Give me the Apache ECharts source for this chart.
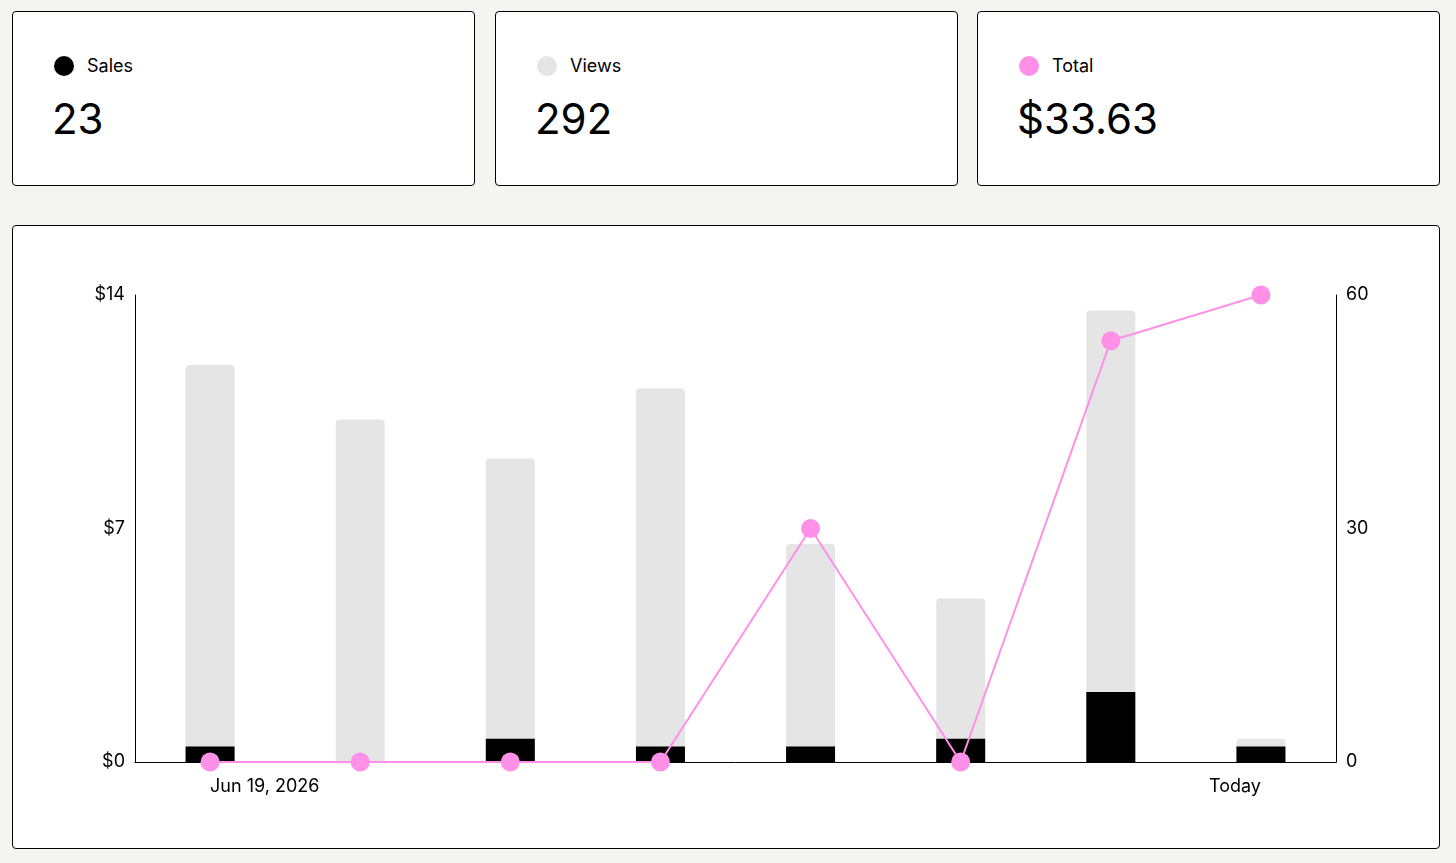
<!DOCTYPE html>
<html>
<head>
<meta charset="utf-8">
<script src="https://cdn.jsdelivr.net/npm/echarts@6/dist/echarts.min.js"></script>
<style>
  html,body{margin:0;padding:0;background:#f4f4f0;font-family:Inter,"Noto Sans",sans-serif;color:#000;}
  body{width:1456px;height:863px;position:relative;overflow:hidden;}
  .card{position:absolute;background:#fff;border:1px solid #000;border-radius:4px;box-sizing:border-box;}
  .lbl{position:absolute;left:41px;top:42px;font-size:18px;line-height:24px;display:flex;align-items:center;}
  .dot{width:20px;height:20px;border-radius:50%;margin-right:13px;}
  .num{position:absolute;left:39px;top:81px;font-size:42px;line-height:52px;}
  #chart{position:absolute;left:0;top:0;width:1425px;height:621px;}
</style>
</head>
<body>
<div class="card" style="left:12px;top:11px;width:463px;height:175px;">
  <div class="lbl"><span class="dot" style="background:#000"></span><span id="l0"></span></div>
  <div class="num" id="n0"></div>
</div>
<div class="card" style="left:495px;top:11px;width:463px;height:175px;">
  <div class="lbl"><span class="dot" style="background:#e5e5e5"></span><span id="l1"></span></div>
  <div class="num" id="n1"></div>
</div>
<div class="card" style="left:977px;top:11px;width:463px;height:175px;">
  <div class="lbl"><span class="dot" style="background:#ff90e8"></span><span id="l2"></span></div>
  <div class="num" id="n2"></div>
</div>
<div class="card" style="left:12px;top:225px;width:1428px;height:624px;">
  <div id="chart"></div>
</div>
<script>
const categories = ['Jun 19, 2026','Jun 20, 2026','Jun 21, 2026','Jun 22, 2026','Jun 23, 2026','Jun 24, 2026','Jun 25, 2026','Today'];
const views = [51, 44, 39, 48, 28, 21, 58, 3];
const sales = [2, 0, 3, 2, 2, 3, 9, 2];
const totals = [0, 0, 0, 0, 7.00, 0, 12.63, 14.00];
const leftTicks = ['$0', '$7', '$14'];
const rightTicks = ['0', '30', '60'];
const cardLabels = ['Sales', 'Views', 'Total'];

const sumSales = sales.reduce((a,b)=>a+b,0);
const sumViews = views.reduce((a,b)=>a+b,0);
const sumTotal = totals.reduce((a,b)=>a+b,0);
document.getElementById('l0').textContent = cardLabels[0];
document.getElementById('l1').textContent = cardLabels[1];
document.getElementById('l2').textContent = cardLabels[2];
document.getElementById('n0').textContent = String(sumSales);
document.getElementById('n1').textContent = String(sumViews);
document.getElementById('n2').textContent = '$' + sumTotal.toFixed(2);

const font = 'Inter, "Noto Sans", sans-serif';
const chart = echarts.init(document.getElementById('chart'), null, {renderer:'canvas'});
chart.setOption({
  animation:false,
  textStyle:{fontFamily:font},
  grid:{left:122,right:102,top:69,bottom:85,containLabel:false},
  xAxis:{
    type:'category',
    data:categories,
    boundaryGap:true,
    axisLine:{lineStyle:{color:'#000',width:1}},
    axisTick:{show:false},
    axisLabel:{
      color:'#000',fontSize:18,fontFamily:font,margin:16,interval:0,
      alignMinLabel:'left',alignMaxLabel:'right',
      formatter:(v,i)=> (i===0||i===categories.length-1)? v : ''
    }
  },
  yAxis:[
    {type:'value',min:0,max:14,interval:7,position:'left',
     axisLine:{show:true,lineStyle:{color:'#000',width:1}},
     axisTick:{show:false},splitLine:{show:false},
     axisLabel:{color:'#000',fontSize:18,fontFamily:font,margin:10,padding:[4,0,0,0],
       formatter:(v)=>leftTicks[Math.round(v/7)]}},
    {type:'value',min:0,max:60,interval:30,position:'right',
     axisLine:{show:true,lineStyle:{color:'#000',width:1}},
     axisTick:{show:false},splitLine:{show:false},
     axisLabel:{color:'#000',fontSize:18,fontFamily:font,margin:10,padding:[4,0,0,0],
       formatter:(v)=>rightTicks[Math.round(v/30)]}}
  ],
  series:[
    {name:'Views',type:'bar',yAxisIndex:1,data:views,barWidth:49,barGap:'-100%',
     itemStyle:{color:'#e5e5e5',borderRadius:[4,4,0,0]}},
    {name:'Sales',type:'bar',yAxisIndex:1,data:sales,barWidth:49,barGap:'-100%',
     itemStyle:{color:'#000'}},
    {name:'Total',type:'line',yAxisIndex:0,data:totals,symbol:'circle',symbolSize:19,
     lineStyle:{color:'#ff90e8',width:2},itemStyle:{color:'#ff90e8'},z:5}
  ]
});
</script>
</body>
</html>
